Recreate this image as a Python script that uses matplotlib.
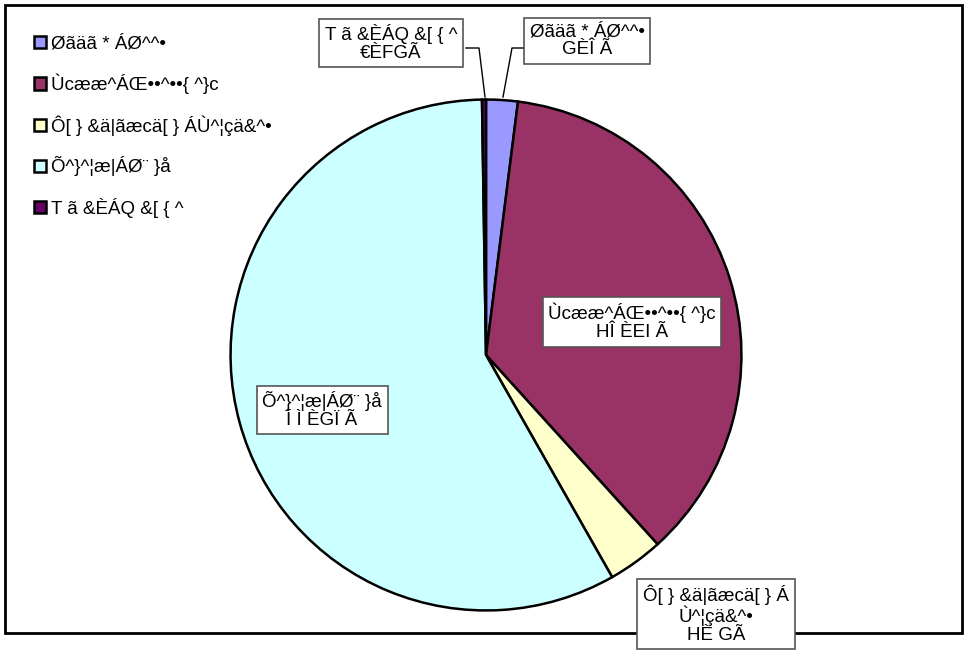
import matplotlib
matplotlib.use("Agg")
import matplotlib.pyplot as plt
from matplotlib.patches import Rectangle
from matplotlib.lines import Line2D

plt.rcParams['font.family'] = ['Liberation Sans', 'DejaVu Sans']

# datos del grafico (texto tal como aparece en la imagen)
categorias = ["Øãäã * ÁØ^^•", "Ùcææ^ÁŒ••^••{ ^}c", "Ô[ } &ä|ãæcä[ } ÁÙ^¦çä&^•",
              "Õ^}^¦æ|ÁØ¨ }å", "T ã &ÈÁQ &[ { ^"]
valores = [2.0, 36.3, 3.5, 58.0, 0.25]
etiquetas = ["Øãäã * ÁØ^^•\nGÈÎ Ã",
             "Ùcææ^ÁŒ••^••{ ^}c\nHÎ ÈEI Ã",
             "Ô[ } &ä|ãæcä[ } Á\nÙ^¦çä&^•\nHÈ GÃ",
             "Õ^}^¦æ|ÁØ¨ }å\nÍ Ì ÈGÏ Ã",
             "T ã &ÈÁQ &[ { ^\n€ÈFGÃ"]
colores = ["#9999FF", "#993366", "#FFFFCC", "#CCFFFF", "#660066"]

W, H = 967, 664
fig = plt.figure(figsize=(W / 100, H / 100), dpi=100)

def fx(px):
    return px / W

def fy(py):
    return 1 - py / H

# marco exterior
fig.patches.append(Rectangle((fx(5), fy(633)), fx(962) - fx(5), fy(5) - fy(633),
                             transform=fig.transFigure, fill=False,
                             edgecolor="black", linewidth=2))

# pastel
cx, cy, r = 486, 355, 258
ax = fig.add_axes([fx(cx - r), fy(cy + r), 2 * r / W, 2 * r / H])
wedges, _ = ax.pie(valores, colors=colores, startangle=90, counterclock=False,
                   wedgeprops=dict(edgecolor="black", linewidth=1.8))
ax.set_xlim(-1.01, 1.01)
ax.set_ylim(-1.01, 1.01)
ax.set_aspect("auto")
ax.axis("off")

# etiquetas de datos (posiciones en pixeles)
pos = [(587, 41), (632, 322), (716, 614), (322, 410), (391, 43)]
for txt, (px, py) in zip(etiquetas, pos):
    fig.text(fx(px), fy(py), txt, ha="center", va="center", fontsize=13.5,
             linespacing=1.05,
             bbox=dict(boxstyle="square,pad=0.3", facecolor="white",
                       edgecolor="#555555", linewidth=1.2))

# lineas guia
guias = [[(466, 48), (479, 48), (485, 97)],
         [(524, 48), (512, 48), (503, 97)]]
for g in guias:
    xs = [fx(p[0]) for p in g]
    ys = [fy(p[1]) for p in g]
    fig.lines.append(Line2D(xs, ys, transform=fig.transFigure, color="black", linewidth=1))

# leyenda
fig.legend(wedges, categorias, loc="upper left",
           bbox_to_anchor=(fx(26), fy(28)), frameon=False, fontsize=13.5,
           handlelength=0.65, handleheight=0.65, handletextpad=0.3,
           labelspacing=1.12, borderaxespad=0)

fig.savefig("out.png", dpi=100)
